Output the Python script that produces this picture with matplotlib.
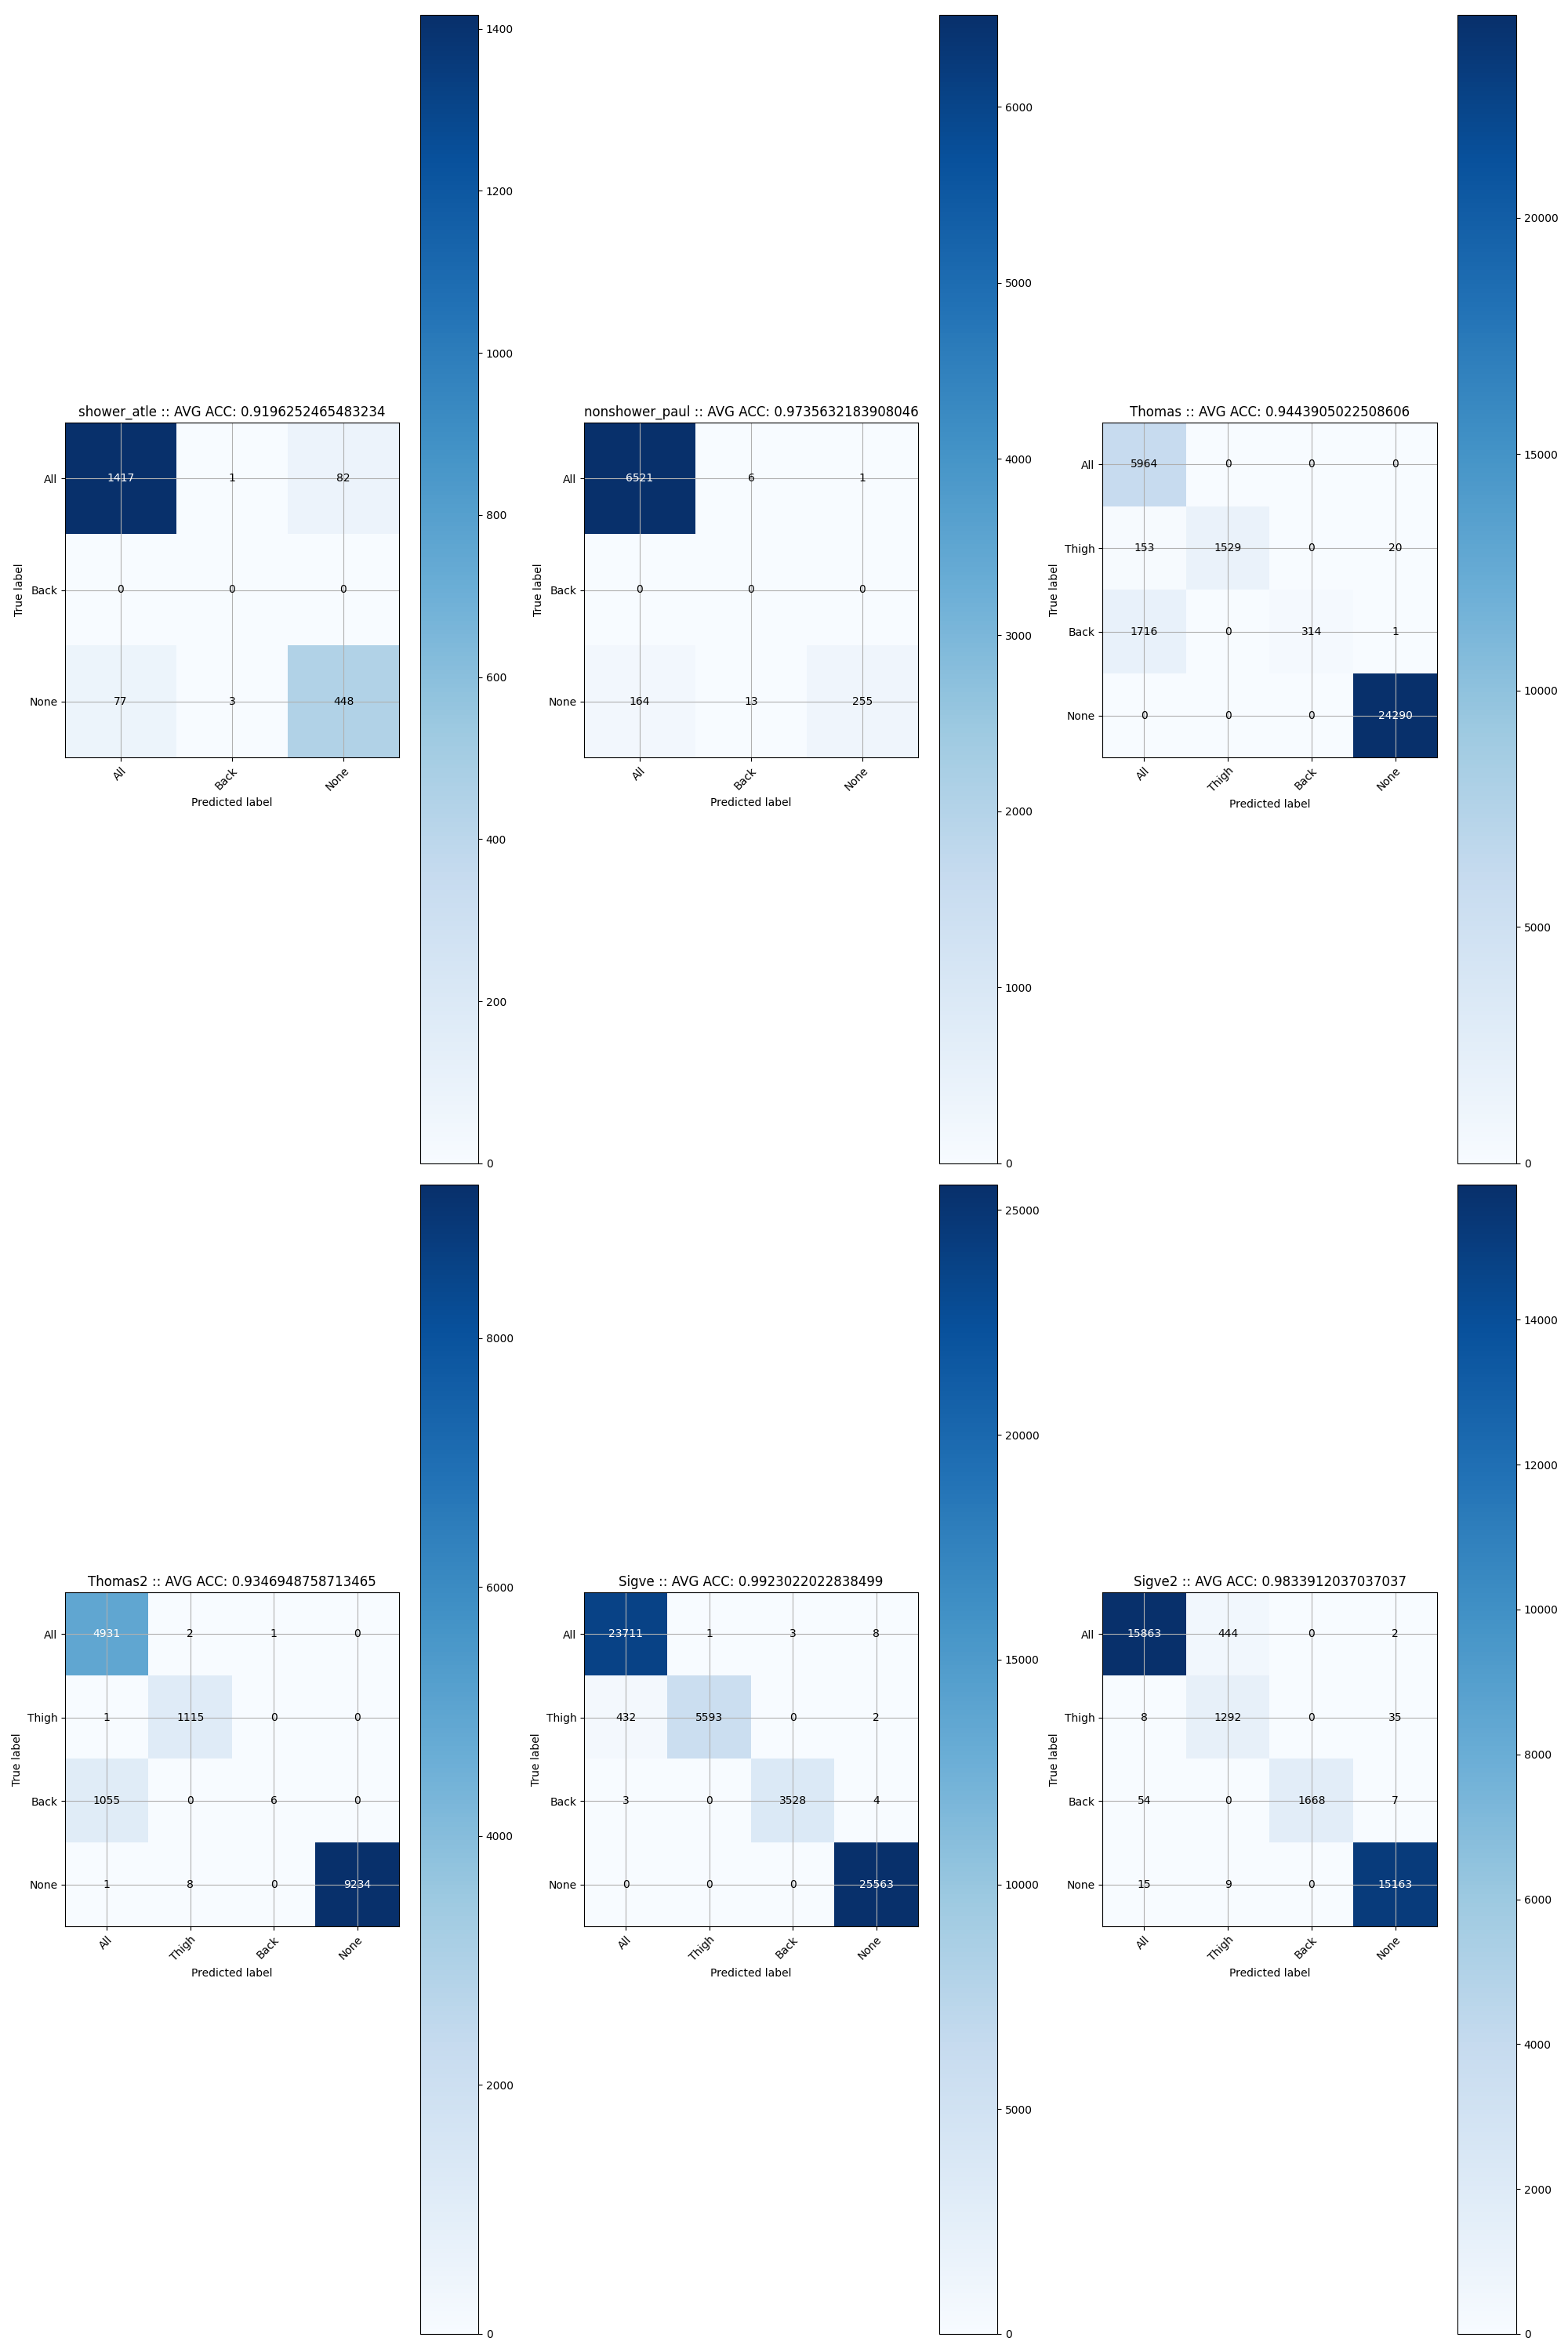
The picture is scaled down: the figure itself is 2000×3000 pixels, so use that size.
import numpy as np
import matplotlib
matplotlib.use("Agg")
import matplotlib.pyplot as plt

# ---- data ----
titles = [
    "shower_atle :: AVG ACC: 0.9196252465483234",
    "nonshower_paul :: AVG ACC: 0.9735632183908046",
    "Thomas :: AVG ACC: 0.9443905022508606",
    "Thomas2 :: AVG ACC: 0.9346948758713465",
    "Sigve :: AVG ACC: 0.9923022022838499",
    "Sigve2 :: AVG ACC: 0.9833912037037037",
]
classes_3 = ["All", "Back", "None"]
classes_4 = ["All", "Thigh", "Back", "None"]

cm_shower_atle = [[1417, 1, 82], [0, 0, 0], [77, 3, 448]]
cm_nonshower_paul = [[6521, 6, 1], [0, 0, 0], [164, 13, 255]]
cm_thomas = [[5964, 0, 0, 0], [153, 1529, 0, 20], [1716, 0, 314, 1], [0, 0, 0, 24290]]
cm_thomas2 = [[4931, 2, 1, 0], [1, 1115, 0, 0], [1055, 0, 6, 0], [1, 8, 0, 9234]]
cm_sigve = [[23711, 1, 3, 8], [432, 5593, 0, 2], [3, 0, 3528, 4], [0, 0, 0, 25563]]
cm_sigve2 = [[15863, 444, 0, 2], [8, 1292, 0, 35], [54, 0, 1668, 7], [15, 9, 0, 15163]]

matrices = [cm_shower_atle, cm_nonshower_paul, cm_thomas, cm_thomas2, cm_sigve, cm_sigve2]
class_sets = [classes_3, classes_3, classes_4, classes_4, classes_4, classes_4]

# ---- layout (pixels) ----
W, H = 2000, 3000
fig = plt.figure(figsize=(20, 30), dpi=100)

ax_x = [(83, 509), (745, 1171), (1406, 1833)]
ax_y = [(539, 966), (2031, 2457)]
cb_x = [(536, 610), (1198, 1272), (1859, 1934)]
cb_y = [(19, 1484), (1511, 2977)]


def rect(x0, x1, y0, y1):
    return [x0 / W, 1 - y1 / H, (x1 - x0) / W, (y1 - y0) / H]


for idx, (cm, classes, title) in enumerate(zip(matrices, class_sets, titles)):
    r, c = divmod(idx, 3)
    cm = np.array(cm)
    ax = fig.add_axes(rect(*ax_x[c], *ax_y[r]))
    cax = fig.add_axes(rect(*cb_x[c], *cb_y[r]))
    im = ax.imshow(cm, interpolation="nearest", cmap=plt.cm.Blues, aspect="auto")
    ax.set_title(title, fontsize=12)
    fig.colorbar(im, cax=cax)
    ticks = np.arange(len(classes))
    ax.set_xticks(ticks)
    ax.set_xticklabels(classes, rotation=45, ha="right", rotation_mode="anchor")
    ax.set_yticks(ticks)
    ax.set_yticklabels(classes)
    thresh = cm.max() / 2.0
    for i in range(cm.shape[0]):
        for j in range(cm.shape[1]):
            ax.text(j, i, format(cm[i, j], "d"), ha="center", va="center",
                    color="white" if cm[i, j] > thresh else "black", fontsize=10)
    ax.set_ylabel("True label")
    ax.set_xlabel("Predicted label")
    ax.grid(True)

fig.savefig("out.png", dpi=100)
